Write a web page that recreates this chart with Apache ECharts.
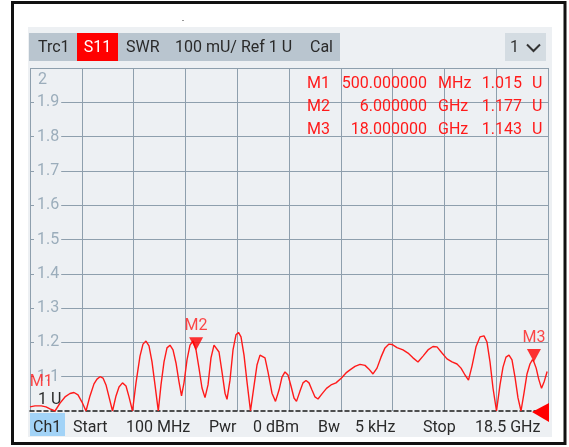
<!DOCTYPE html>
<html>
<head>
<meta charset="utf-8">
<script src="https://cdn.jsdelivr.net/npm/echarts@6/dist/echarts.min.js"></script>
<style>
  html, body { margin: 0; padding: 0; background: #fff; }
  #chart { width: 569px; height: 447px; }
</style>
</head>
<body>
<div id="chart"></div>
<script>
// trace S11 SWR, freq in GHz
var freqGHz = [0.100, 0.278, 0.500, 0.668, 0.810, 0.988, 1.166, 1.343, 1.521, 1.663, 1.805, 1.947, 2.089, 2.231, 2.373, 2.480, 2.587, 2.693, 2.800, 2.906,
  3.031, 3.155, 3.262, 3.386, 3.510, 3.617, 3.741, 3.865, 4.007, 4.114, 4.220, 4.327, 4.434, 4.540, 4.657, 4.753, 4.860, 4.966, 5.073, 5.180,
  5.286, 5.393, 5.482, 5.570, 5.677, 5.783, 5.890, 6.000, 6.103, 6.210, 6.316, 6.423, 6.529, 6.636, 6.707, 6.814, 6.920, 7.027, 7.098, 7.204,
  7.311, 7.417, 7.506, 7.595, 7.702, 7.808, 7.932, 8.057, 8.163, 8.270, 8.341, 8.447, 8.554, 8.696, 8.820, 8.945, 9.051, 9.158, 9.264, 9.371,
  9.478, 9.566, 9.691, 9.797, 9.904, 10.010, 10.117, 10.223, 10.330, 10.472, 10.632, 10.792, 10.969, 11.165, 11.325, 11.467, 11.644, 11.822, 12.000, 12.142,
  12.284, 12.426, 12.568, 12.710, 12.852, 12.959, 13.136, 13.349, 13.527, 13.704, 13.882, 14.060, 14.237, 14.415, 14.557, 14.735, 14.912, 15.090, 15.268, 15.410,
  15.552, 15.676, 15.800, 15.942, 16.084, 16.227, 16.333, 16.440, 16.546, 16.671, 16.795, 16.902, 17.008, 17.115, 17.221, 17.328, 17.434, 17.541, 17.647, 17.754,
  17.860, 17.950, 18.000, 18.080, 18.170, 18.270, 18.370, 18.470];
var swr = [1.012, 1.015, 1.015, 1.012, 1.006, 1.000, 1.023, 1.041, 1.051, 1.054, 1.047, 1.026, 1.000, 1.044, 1.079, 1.093, 1.100, 1.096, 1.076, 1.041,
  1.000, 1.044, 1.070, 1.082, 1.073, 1.041, 1.000, 1.082, 1.160, 1.195, 1.204, 1.190, 1.143, 1.076, 1.000, 1.076, 1.143, 1.184, 1.192, 1.178,
  1.140, 1.085, 1.044, 1.082, 1.149, 1.192, 1.204, 1.177, 1.125, 1.067, 1.039, 1.076, 1.155, 1.192, 1.195, 1.172, 1.114, 1.052, 1.034, 1.090,
  1.178, 1.222, 1.229, 1.216, 1.163, 1.085, 1.000, 1.073, 1.134, 1.163, 1.168, 1.155, 1.114, 1.052, 1.028, 1.061, 1.099, 1.114, 1.105, 1.073,
  1.038, 1.028, 1.058, 1.082, 1.089, 1.082, 1.061, 1.041, 1.035, 1.050, 1.066, 1.076, 1.082, 1.096, 1.111, 1.120, 1.130, 1.136, 1.133, 1.122,
  1.108, 1.125, 1.157, 1.184, 1.195, 1.194, 1.185, 1.178, 1.169, 1.155, 1.143, 1.160, 1.178, 1.188, 1.187, 1.169, 1.152, 1.143, 1.137, 1.125,
  1.105, 1.090, 1.131, 1.187, 1.216, 1.219, 1.201, 1.143, 1.067, 1.000, 1.076, 1.128, 1.157, 1.163, 1.149, 1.099, 1.038, 1.000, 1.052, 1.108,
  1.137, 1.150, 1.143, 1.125, 1.093, 1.066, 1.087, 1.115];

// markers
var markerNames = ['M1', 'M2', 'M3'];
var markerFreq = [0.5, 6, 18];
var markerSwr = [1.015, 1.177, 1.143];
var markerStim = ['500.000000', '6.000000', '18.000000'];
var markerUnit = ['MHz', 'GHz', 'GHz'];
var markerRead = ['1.015', '1.177', '1.143'];

// header / footer text
var headerTexts = ['Trc1', 'S11', 'SWR', '100 mU/ Ref 1 U', 'Cal'];
var headerX = [38, 97.5, 126, 175, 310];
var footerTexts = ['Ch1', 'Start', '100 MHz', 'Pwr', '0 dBm', 'Bw', '5 kHz', 'Stop', '18.5 GHz'];
var footerX = [33, 73, 126, 209, 253, 318, 355, 423, 475];

var FONT = 'Roboto, "Noto Sans", sans-serif';
var BG = '#edf0f3';
var GRID = '#8e9fad';
var LBL = '#9badbb';

var trace = freqGHz.map(function (f, i) { return [f, swr[i]]; });
var markers = markerFreq.map(function (f, i) {
  var it = { value: [f, markerSwr[i]], name: markerNames[i] };
  if (i == 0) it.itemStyle = { color: 'rgba(0,0,0,0)' }; // M1 no triangle shown
  return it;
});

var chart = echarts.init(document.getElementById('chart'), null, { renderer: 'canvas' });

var gfx = [];
// frame + panel
gfx.push({ type: 'rect', z: -20, shape: { x: 28, y: 27, width: 524, height: 410 }, style: { fill: BG } });
gfx.push({ type: 'rect', z: 100, shape: { x: 12.5, y: 2.5, width: 552.5, height: 441 }, style: { fill: 'rgba(0,0,0,0)', stroke: '#111', lineWidth: 3 } });
gfx.push({ type: 'rect', z: -10, shape: { x: 182, y: 20, width: 2, height: 1 }, style: { fill: '#999' } });
// header bar
gfx.push({ type: 'rect', z: -10, shape: { x: 29, y: 33, width: 311, height: 28 }, style: { fill: '#b9c5cf' } });
gfx.push({ type: 'rect', z: -9, shape: { x: 77, y: 33, width: 41, height: 28 }, style: { fill: '#ff0000' } });
gfx.push({ type: 'rect', z: -10, shape: { x: 505, y: 33, width: 41, height: 28 }, style: { fill: '#d4dce2' } });
gfx.push({ type: 'text', z: 50, style: { text: '1', x: 510, y: 48, fill: '#333', font: '16px ' + FONT, verticalAlign: 'middle' } });
gfx.push({ type: 'polyline', z: 50, shape: { points: [[527, 44.5], [533.5, 51], [540, 44.5]] }, style: { stroke: '#333', lineWidth: 2, fill: null } });
headerTexts.forEach(function (t, i) {
  gfx.push({ type: 'text', z: 50, style: {
    text: t, x: headerX[i], y: 48, fill: i == 1 ? '#fff' : '#2a2a2a',
    font: '16px ' + FONT, verticalAlign: 'middle', align: i == 1 ? 'center' : 'left'
  } });
});
// footer
gfx.push({ type: 'rect', z: -10, shape: { x: 30, y: 413, width: 35, height: 23 }, style: { fill: '#a2d3f7' } });
footerTexts.forEach(function (t, i) {
  gfx.push({ type: 'text', z: 50, style: { text: t, x: footerX[i], y: 428, fill: '#2a2a2a', font: '16px ' + FONT, verticalAlign: 'middle' } });
});
// y labels not on split lines
gfx.push({ type: 'text', z: 50, style: { text: '2', x: 38, y: 80, fill: LBL, font: '16px ' + FONT, verticalAlign: 'middle' } });
gfx.push({ type: 'text', z: 50, style: { text: '1 U', x: 38, y: 400, fill: '#2a2a2a', font: '16px ' + FONT, verticalAlign: 'middle' } });
// ref level arrow
gfx.push({ type: 'polygon', z: 60, shape: { points: [[532, 412], [549, 403], [549, 422]] }, style: { fill: '#ff0000' } });
// marker table
var rowY = [84, 107, 129.5];
markerNames.forEach(function (m, i) {
  var st = { fill: '#ff1a1a', font: '16px ' + FONT, verticalAlign: 'middle' };
  gfx.push({ type: 'text', z: 50, style: Object.assign({ text: m, x: 330, y: rowY[i], align: 'right' }, st) });
  gfx.push({ type: 'text', z: 50, style: Object.assign({ text: markerStim[i], x: 427, y: rowY[i], align: 'right' }, st) });
  gfx.push({ type: 'text', z: 50, style: Object.assign({ text: markerUnit[i], x: 438, y: rowY[i], align: 'left' }, st) });
  gfx.push({ type: 'text', z: 50, style: Object.assign({ text: markerRead[i], x: 522, y: rowY[i], align: 'right' }, st) });
  gfx.push({ type: 'text', z: 50, style: Object.assign({ text: 'U', x: 532, y: rowY[i], align: 'left' }, st) });
});

// split line colours: hide the 1.0 line (dashed ref line drawn there)
var hLineColors = ['rgba(0,0,0,0)', GRID, GRID, GRID, GRID, GRID, GRID, GRID, GRID, GRID, GRID];

var option = {
  animation: false,
  grid: { left: 30, top: 68, right: 21, bottom: 36 },
  xAxis: [{
    type: 'value', min: 0.1, max: 18.5, position: 'bottom',
    axisLine: { show: true, lineStyle: { color: '#1a1a1a', width: 1.5, type: [4, 3] } },
    axisTick: { show: false }, axisLabel: { show: false }, splitLine: { show: false }
  }, {
    type: 'value', min: 0, max: 10, interval: 1, position: 'top',
    axisLine: { show: false }, axisTick: { show: false }, axisLabel: { show: false },
    splitLine: { show: true, lineStyle: { color: GRID, width: 1 } }
  }],
  yAxis: {
    type: 'value', min: 1, max: 2, interval: 0.1,
    axisLine: { show: false }, axisTick: { show: false },
    axisLabel: {
      inside: true, margin: 4, color: LBL, fontSize: 16, fontFamily: FONT,
      backgroundColor: BG, padding: [0, 2, 0, 3],
      formatter: function (v) { return (v > 1.05 && v < 1.95) ? v.toFixed(1) : ''; }
    },
    splitLine: { show: true, lineStyle: { color: hLineColors, width: 1 } }
  },
  series: [{
    type: 'line', data: trace, symbol: 'none', smooth: false, z: 5,
    lineStyle: { color: '#ff1a1a', width: 1.4 }
  }, {
    type: 'scatter', data: markers, z: 6,
    symbol: 'triangle', symbolRotate: 180, symbolSize: [14, 13], symbolOffset: [0, '-50%'],
    itemStyle: { color: '#ff0000' },
    label: { show: true, position: 'top', distance: 3, formatter: '{b}', color: '#ff1a1a', fontSize: 16, fontFamily: FONT }
  }],
  graphic: { elements: gfx }
};
chart.setOption(option);
</script>
</body>
</html>
